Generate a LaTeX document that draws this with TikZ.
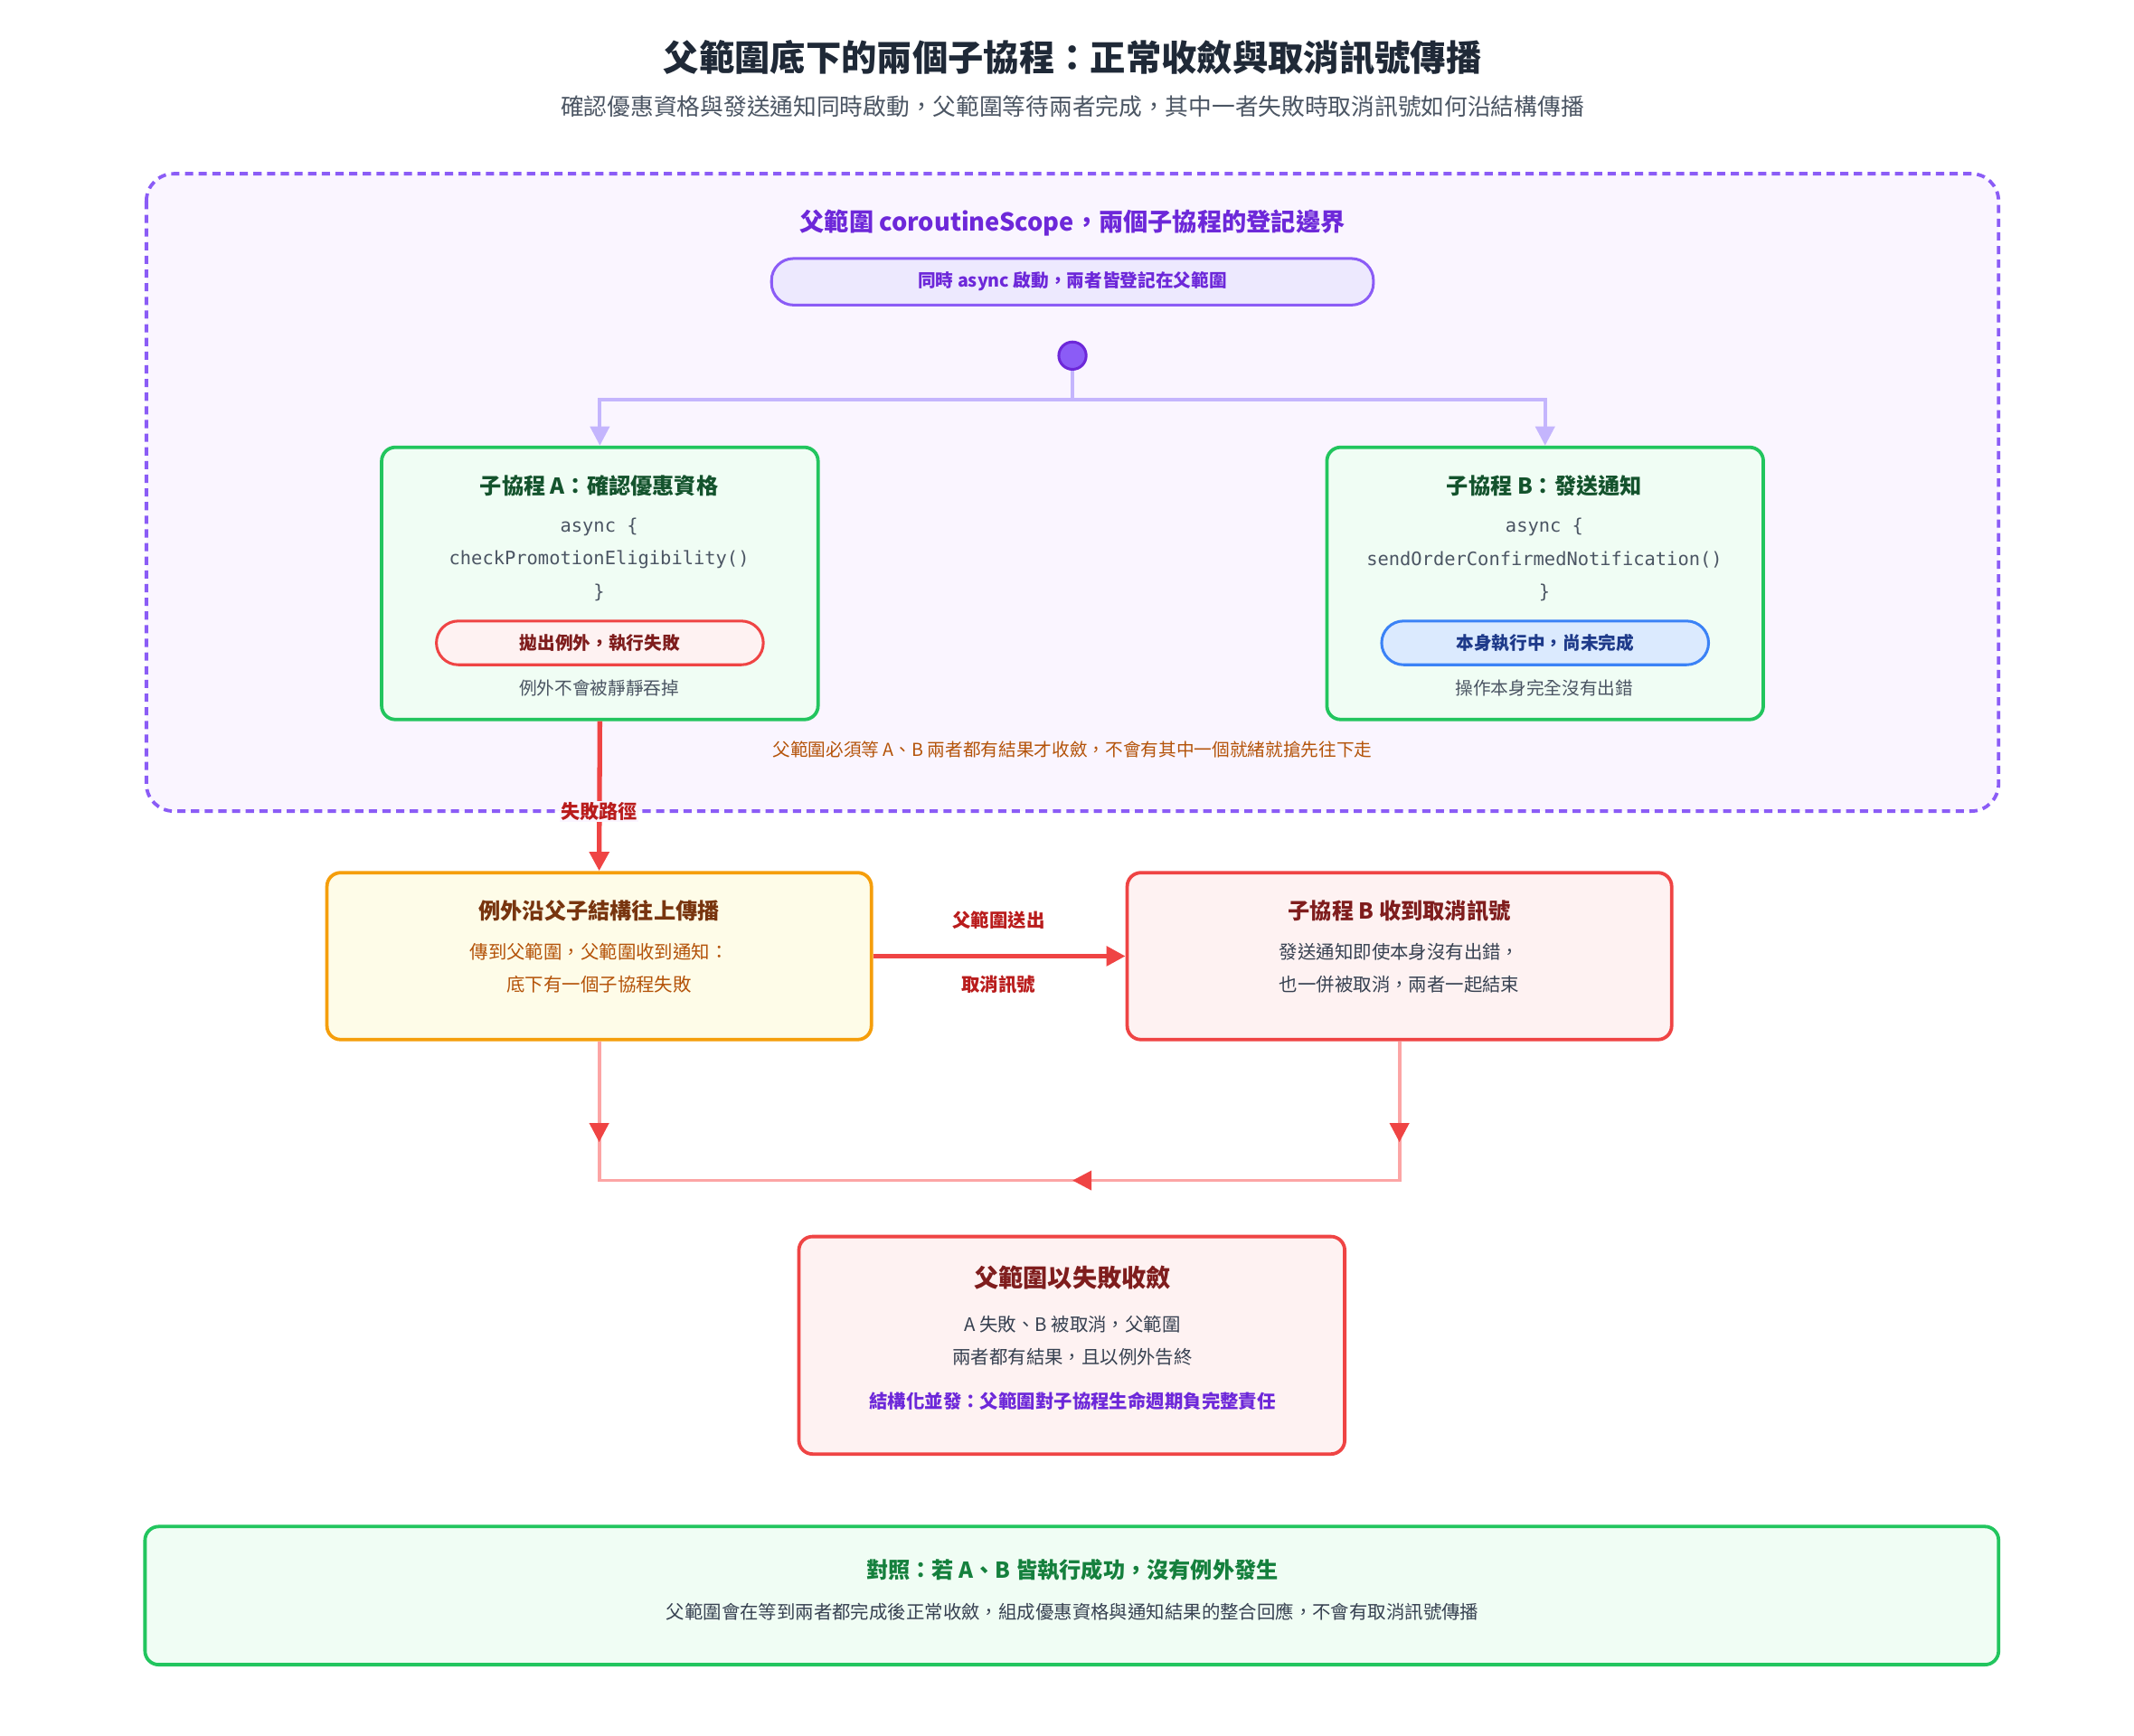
\documentclass[tikz,border=0pt]{standalone}
\usepackage{fontspec}
\setmainfont{Noto Sans CJK TC}
\setmonofont{DejaVu Sans Mono}
\usetikzlibrary{arrows.meta}
\definecolor{pur}{HTML}{8B5CF6}\definecolor{purd}{HTML}{6D28D9}
\definecolor{purl}{HTML}{C4B5FD}\definecolor{grn}{HTML}{22C55E}
\definecolor{grnd}{HTML}{14532D}\definecolor{red}{HTML}{EF4444}
\definecolor{redd}{HTML}{7F1D1D}\definecolor{org}{HTML}{F59E0B}
\definecolor{brn}{HTML}{B45309}\definecolor{gry}{HTML}{4B5563}
\definecolor{blu}{HTML}{3B82F6}\definecolor{blud}{HTML}{1E3A8A}
\definecolor{pink}{HTML}{FCA5A5}
\definecolor{ttl}{HTML}{1F2937}\definecolor{purbg}{HTML}{FAF5FF}
\definecolor{purpill}{HTML}{EDE9FE}\definecolor{grnbg}{HTML}{F0FDF4}
\definecolor{redbg}{HTML}{FEF2F2}\definecolor{blubg}{HTML}{DBEAFE}
\definecolor{orgbg}{HTML}{FEFCE8}\definecolor{brnd}{HTML}{78350F}
\definecolor{txt}{HTML}{374151}\definecolor{redm}{HTML}{B91C1C}
\definecolor{grnm}{HTML}{15803D}
\tikzset{
 box/.style={draw,line width=2.5pt,rounded corners=10pt},
 pill/.style={draw,line width=2pt,rounded corners=16pt,font=\fontsize{13}{15}\selectfont\bfseries},
 t/.style={font=\fontsize{16}{18}\selectfont\bfseries},
 b/.style={font=\fontsize{13.5}{16}\selectfont},
 m/.style={font=\ttfamily\fontsize{13.5}{16}\selectfont,text=gry},
 con/.style={line width=2.5pt,pink},
 tip/.style={-{Triangle[length=14pt,width=14pt]}},
 rtip/.style={-{Triangle[length=14pt,width=14pt,fill=red,color=red]}}
}
\begin{document}
\begin{tikzpicture}[x=1pt,y=-1pt]
\useasboundingbox[fill=white] (0,0) rectangle (1560,1269);
\node[font=\fontsize{26}{30}\selectfont\bfseries,text=ttl] (title) at (784,42) {父範圍底下的兩個子協程：正常收斂與取消訊號傳播};
\node[font=\fontsize{17}{20}\selectfont,text=gry] (sub) at (784,78) {確認優惠資格與發送通知同時啟動，父範圍等待兩者完成，其中一者失敗時取消訊號如何沿結構傳播};
\draw[pur,line width=2.5pt,dash pattern=on 6pt off 4pt,fill=purbg,rounded corners=20pt] (107,127) rectangle (1461,593);
\node[font=\fontsize{18}{20}\selectfont\bfseries,text=purd] (sl) at (784,163) {父範圍 coroutineScope，兩個子協程的登記邊界};
\node[pill,pur,fill=purpill,text=purd,minimum width=440pt,minimum height=34pt] (p0) at (784,206) {同時 async 啟動，兩者皆登記在父範圍};
\node[circle,draw=purd,fill=pur,line width=2pt,minimum size=20pt,inner sep=0] (dot) at (784,260) {};
\node[box,grn,fill=grnbg,minimum width=319pt,minimum height=199pt] (A) at (438.5,426.5) {};
\node[box,grn,fill=grnbg,minimum width=319pt,minimum height=199pt] (B) at (1129.5,426.5) {};
\coordinate (j) at (784,292);
\draw[line width=2.5pt,purl] (dot) -- (j);
\draw[line width=2.5pt,purl,tip] (j) -| (A.north);
\draw[line width=2.5pt,purl,tip] (j) -| (B.north);
\node[t,text=grnd] (At) at (438,355) {子協程 A：確認優惠資格};
\node[m] (A1) at (438,385) {async \{};
\node[m] (A2) at (438,409) {checkPromotionEligibility()};
\node[m] (A3) at (438,433) {\}};
\node[pill,red,fill=redbg,text=redd,minimum width=239pt,minimum height=32pt] (Ap) at (438.5,470) {拋出例外，執行失敗};
\node[text=gry,font=\fontsize{13}{15}\selectfont] (An) at (438,503) {例外不會被靜靜吞掉};
\node[t,text=grnd] (Bt) at (1129,355) {子協程 B：發送通知};
\node[m] (B1) at (1129,385) {async \{};
\node[m] (B2) at (1129,409) {sendOrderConfirmedNotification()};
\node[m] (B3) at (1129,433) {\}};
\node[pill,blu,fill=blubg,text=blud,minimum width=239pt,minimum height=32pt] (Bp) at (1129.5,470) {本身執行中，尚未完成};
\node[text=gry,font=\fontsize{13}{15}\selectfont] (Bn) at (1129,503) {操作本身完全沒有出錯};
\node[font=\fontsize{13}{15}\selectfont,text=brn] (note) at (784,548) {父範圍必須等 A、B 兩者都有結果才收斂，不會有其中一個就緒就搶先往下走};
\node[box,org,fill=orgbg,minimum width=398pt,minimum height=122pt] (C) at (438,699) {};
\node[box,red,fill=redbg,minimum width=398pt,minimum height=122pt] (D) at (1023,699) {};
\draw[line width=3.5pt,red,tip] (A.south) -- (C.north);
\node[font=\fontsize{14}{16}\selectfont\bfseries,text=redm,fill=purbg,inner sep=1pt] (fl) at (438,593) {失敗路徑};
\node[t,text=brnd] (Ct) at (438,666) {例外沿父子結構往上傳播};
\node[b,text=brn] (C1) at (438,696) {傳到父範圍，父範圍收到通知：};
\node[b,text=brn] (C2) at (438,720) {底下有一個子協程失敗};
\node[t,text=redd] (Dt) at (1023,666) {子協程 B 收到取消訊號};
\node[b,text=txt] (D1) at (1023,696) {發送通知即使本身沒有出錯，};
\node[b,text=txt] (D2) at (1023,720) {也一併被取消，兩者一起結束};
\draw[line width=3.5pt,red,tip] (C.east) -- (D.west);
\node[font=\fontsize{13.5}{16}\selectfont\bfseries,text=redm] (cl1) at (730,673) {父範圍送出};
\node[font=\fontsize{13.5}{16}\selectfont\bfseries,text=redm] (cl2) at (730,720) {取消訊號};
\coordinate (c1) at (438,835); \coordinate (c2) at (438,863);
\coordinate (d1) at (1023,835); \coordinate (d2) at (1023,863);
\coordinate (mid) at (784,863);
\draw[con] (C.south) -- (c2) -- (mid);
\draw[con] (D.south) -- (d2) -- (mid);
\draw[con,rtip] (C.south) -- (c1);
\draw[con,rtip] (D.south) -- (d1);
\draw[con,rtip] (d2) -- (mid);
\node[box,red,fill=redbg,minimum width=399pt,minimum height=159pt] (E) at (783.5,983.5) {};
\node[font=\fontsize{18}{20}\selectfont\bfseries,text=redd] (Et) at (784,934) {父範圍以失敗收斂};
\node[b,text=txt] (E1) at (784,968) {A 失敗、B 被取消，父範圍};
\node[b,text=txt] (E2) at (784,992) {兩者都有結果，且以例外告終};
\node[font=\fontsize{13.5}{16}\selectfont\bfseries,text=purd] (E3) at (784,1024) {結構化並發：父範圍對子協程生命週期負完整責任};
\node[box,grn,fill=grnbg,minimum width=1355pt,minimum height=101pt] (F) at (783.5,1166.5) {};
\node[t,text=grnm] (Ft) at (784,1148) {對照：若 A、B 皆執行成功，沒有例外發生};
\node[b,text=txt] (F1) at (784,1178) {父範圍會在等到兩者都完成後正常收斂，組成優惠資格與通知結果的整合回應，不會有取消訊號傳播};
\end{tikzpicture}
\end{document}
